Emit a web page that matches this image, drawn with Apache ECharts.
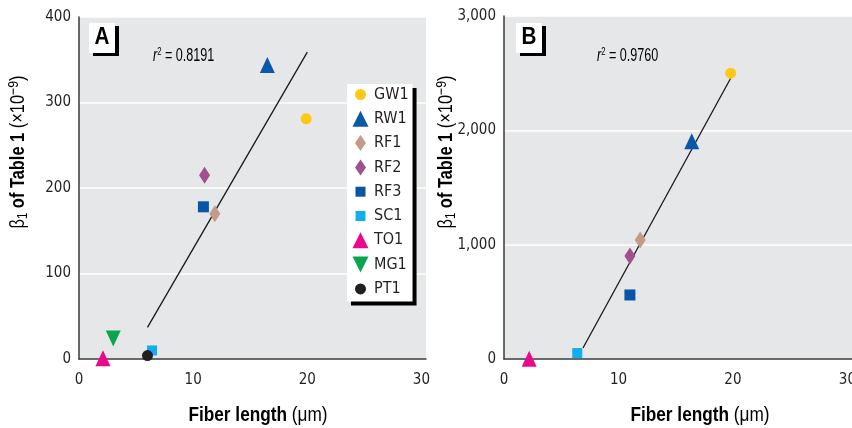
<!DOCTYPE html>
<html><head><meta charset="utf-8">
<script src="https://cdn.jsdelivr.net/npm/echarts@6/dist/echarts.min.js"></script>
<style>html,body{margin:0;padding:0;background:#fff}#c{width:852px;height:428px}</style>
</head><body><div id="c"></div>
<script>
// ---- data ----
const sampleNames = ['GW1', 'RW1', 'RF1', 'RF2', 'RF3', 'SC1', 'TO1', 'MG1', 'PT1'];
const fiberLengthA = [19.9, 16.5, 11.9, 11.0, 10.9, 6.4, 2.1, 3.0, 6.0];
const beta1A = [281, 344, 170, 215, 178, 10, 1, 24, 4];
const fiberLengthB = [19.8, 16.4, 11.9, 11.0, 11.0, 6.4, 2.2];
const beta1B = [2500, 1905, 1040, 900, 560, 52, 2];
const fitLineA = [[6.0, 37], [20.0, 359]];
const fitLineB = [[6.9, 96], [19.8, 2455]];
const r2A = '0.8191';
const r2B = '0.9760';
const xTicks = [0, 10, 20, 30];
const yTicksA = [0, 100, 200, 300, 400];
const yTicksB = [0, 1000, 2000, 3000];

// ---- styles ----
const FF = "'DejaVu Sans Condensed','Liberation Sans',sans-serif";
const FN = "'Liberation Sans',Arial,sans-serif";
const TXT = '#231f20';
const styles = {
  GW1: {symbol: 'circle', size: 11, color: '#ffc814', icon: 'path://M0,0M17,17M14,8.5A5.5,5.5,0,1,1,3,8.5A5.5,5.5,0,1,1,14,8.5Z'},
  RW1: {symbol: 'triangle', size: [15, 16], color: '#0a58a8', icon: 'path://M0,0M17,17M8.5,0.5L16.5,16.5L0.5,16.5Z'},
  RF1: {symbol: 'diamond', size: [11, 17], color: '#c49a88', icon: 'path://M0,0M17,17M8.5,0.5L14,8.5L8.5,16.5L3,8.5Z'},
  RF2: {symbol: 'diamond', size: [11, 17], color: '#a24f8f', icon: 'path://M0,0M17,17M8.5,0.5L14,8.5L8.5,16.5L3,8.5Z'},
  RF3: {symbol: 'rect', size: 11, color: '#0755a6', icon: 'path://M0,0M17,17M3.5,3.5L13.5,3.5L13.5,13.5L3.5,13.5Z'},
  SC1: {symbol: 'rect', size: 10, color: '#10aeea', icon: 'path://M0,0M17,17M3.5,3.5L13.5,3.5L13.5,13.5L3.5,13.5Z'},
  TO1: {symbol: 'triangle', size: [15, 16], color: '#e8098c', icon: 'path://M0,0M17,17M8.5,0.5L16.5,16.5L0.5,16.5Z'},
  MG1: {symbol: 'triangle', size: [15, 16], rotate: 180, color: '#0aa552', icon: 'path://M0,0M17,17M0.5,0.5L16.5,0.5L8.5,16.5Z'},
  PT1: {symbol: 'circle', size: 11, color: '#231f20', icon: 'path://M0,0M17,17M14,8.5A5.5,5.5,0,1,1,3,8.5A5.5,5.5,0,1,1,14,8.5Z'}
};

function fmtThousands(v) { return String(v).replace(/\B(?=(\d{3})+(?!\d))/g, ','); }

function xAxisCfg(gridIndex) {
  return {
    type: 'value', gridIndex, min: 0, max: 30.4, interval: 10,
    axisLine: {show: true, lineStyle: {color: '#3a3a3a', width: 1.5}},
    axisTick: {show: false}, splitLine: {show: false},
    axisLabel: {margin: 14, fontFamily: FF, fontSize: 15, color: TXT, hideOverlap: false,
      formatter: v => (xTicks.indexOf(v) >= 0 ? String(v) : '')}
  };
}
function yAxisCfg(gridIndex, max, interval, ticks, fmt) {
  return {
    type: 'value', gridIndex, min: 0, max, interval,
    axisLine: {show: true, lineStyle: {color: '#3a3a3a', width: 1.5}},
    axisTick: {show: false},
    splitLine: {show: true, lineStyle: {color: '#ffffff', width: 1.5}},
    axisLabel: {margin: 8, fontFamily: FF, fontSize: 15, color: TXT,
      formatter: v => (ticks.indexOf(v) >= 0 ? fmt(v) : '')}
  };
}

const series = [];
series.push({type: 'line', name: 'fitA', xAxisIndex: 0, yAxisIndex: 0, data: fitLineA,
  showSymbol: false, symbol: 'none', lineStyle: {color: '#1a1a1a', width: 1.3}, z: 1, silent: true});
series.push({type: 'line', name: 'fitB', xAxisIndex: 1, yAxisIndex: 1, data: fitLineB,
  showSymbol: false, symbol: 'none', lineStyle: {color: '#1a1a1a', width: 1.3}, z: 1, silent: true});

sampleNames.forEach((name, i) => {
  const st = styles[name];
  if (i < fiberLengthA.length) {
    series.push({type: 'scatter', name, xAxisIndex: 0, yAxisIndex: 0,
      data: [[fiberLengthA[i], beta1A[i]]], symbol: st.symbol, symbolSize: st.size,
      symbolRotate: st.rotate || 0, itemStyle: {color: st.color, opacity: 1}, z: 3 + i, clip: false});
  }
  if (i < fiberLengthB.length) {
    series.push({type: 'scatter', name, xAxisIndex: 1, yAxisIndex: 1,
      data: [[fiberLengthB[i], beta1B[i]]], symbol: st.symbol, symbolSize: st.size,
      symbolRotate: st.rotate || 0, itemStyle: {color: st.color, opacity: 1}, z: 3 + i, clip: false});
  }
});

const richY = {
  b: {fontFamily: FN, fontSize: 20, color: TXT, lineHeight: 24},
  sub: {fontFamily: FN, fontSize: 14, color: TXT, lineHeight: 24, verticalAlign: 'bottom'},
  bo: {fontFamily: FN, fontSize: 20, fontWeight: 'bold', color: TXT, lineHeight: 24},
  n: {fontFamily: FN, fontSize: 20, color: TXT, lineHeight: 24},
  sup: {fontFamily: FN, fontSize: 15, color: TXT, lineHeight: 24, verticalAlign: 'top'}
};
const richX = {
  bo: {fontFamily: FN, fontSize: 21, fontWeight: 'bold', color: TXT, lineHeight: 24},
  n: {fontFamily: FN, fontSize: 21, color: TXT, lineHeight: 24}
};
const richR = {
  i: {fontFamily: FN, fontSize: 18, fontStyle: 'italic', color: TXT, lineHeight: 20},
  s: {fontFamily: FN, fontSize: 11, color: TXT, lineHeight: 20, verticalAlign: 'top'},
  n: {fontFamily: FN, fontSize: 18, color: TXT, lineHeight: 20}
};
const yNameText = '{b|β}{sub|1}{bo| of Table 1 }{n|(×10}{sup|−9}{n|)}';
const xNameText = '{bo|Fiber length }{n|(μm)}';

function panelLabel(x, letter) {
  return [
    {type: 'rect', shape: {x: x + 4, y: 26, width: 26, height: 30}, style: {fill: '#000'}, z: 50},
    {type: 'rect', shape: {x: x, y: 23, width: 26, height: 30}, style: {fill: '#fff'}, z: 51},
    {type: 'text', x: x + 13, y: 38, scaleX: 0.9, z: 52, style: {text: letter, fontFamily: FN, fontSize: 23, fontWeight: 'bold', fill: '#000', align: 'center', verticalAlign: 'middle'}}
  ];
}

const option = {
  animation: false,
  backgroundColor: '#ffffff',
  grid: [
    {left: 79, top: 17, width: 347, height: 342, show: true, backgroundColor: '#e6e7e8', borderWidth: 0, outerBoundsMode: 'none', containLabel: false},
    {left: 504, top: 16, width: 348, height: 343, show: true, backgroundColor: '#e6e7e8', borderWidth: 0, outerBoundsMode: 'none', containLabel: false}
  ],
  xAxis: [xAxisCfg(0), xAxisCfg(1)],
  yAxis: [
    yAxisCfg(0, 400, 100, yTicksA, v => String(v)),
    yAxisCfg(1, 3000, 1000, yTicksB, fmtThousands)
  ],
  legend: {
    left: 347, top: 84, orient: 'vertical',
    data: sampleNames.map(n => ({name: n, icon: styles[n].icon})),
    itemWidth: 17, itemHeight: 17, itemGap: 7.3, itemTextGap: 5,
    padding: [2, 4, 4, 5], backgroundColor: '#ffffff',
    shadowColor: '#000000', shadowBlur: 0, shadowOffsetX: 4, shadowOffsetY: 4,
    selectedMode: false,
    textStyle: {fontFamily: FF, fontSize: 16, color: TXT, lineHeight: 17}
  },
  graphic: [].concat(
    panelLabel(89, 'A'), panelLabel(516, 'B'),
    [
      {type: 'text', x: 153, y: 56, scaleX: 0.7, z: 40, style: {text: '{i|r}{s|2}{n| = ' + r2A + '}', rich: richR, verticalAlign: 'middle'}},
      {type: 'text', x: 597, y: 56, scaleX: 0.7, z: 40, style: {text: '{i|r}{s|2}{n| = ' + r2B + '}', rich: richR, verticalAlign: 'middle'}},
      {type: 'text', x: 18, y: 152, rotation: Math.PI / 2, scaleX: 0.82, z: 40, style: {text: yNameText, rich: richY, align: 'center', verticalAlign: 'middle'}},
      {type: 'text', x: 446, y: 152, rotation: Math.PI / 2, scaleX: 0.82, z: 40, style: {text: yNameText, rich: richY, align: 'center', verticalAlign: 'middle'}},
      {type: 'text', x: 258, y: 415, scaleX: 0.82, z: 40, style: {text: xNameText, rich: richX, align: 'center', verticalAlign: 'middle'}},
      {type: 'text', x: 700, y: 415, scaleX: 0.82, z: 40, style: {text: xNameText, rich: richX, align: 'center', verticalAlign: 'middle'}}
    ]
  ),
  series
};
const chart = echarts.init(document.getElementById('c'), null, {renderer: 'canvas'});
chart.setOption(option);
</script>
</body></html>
